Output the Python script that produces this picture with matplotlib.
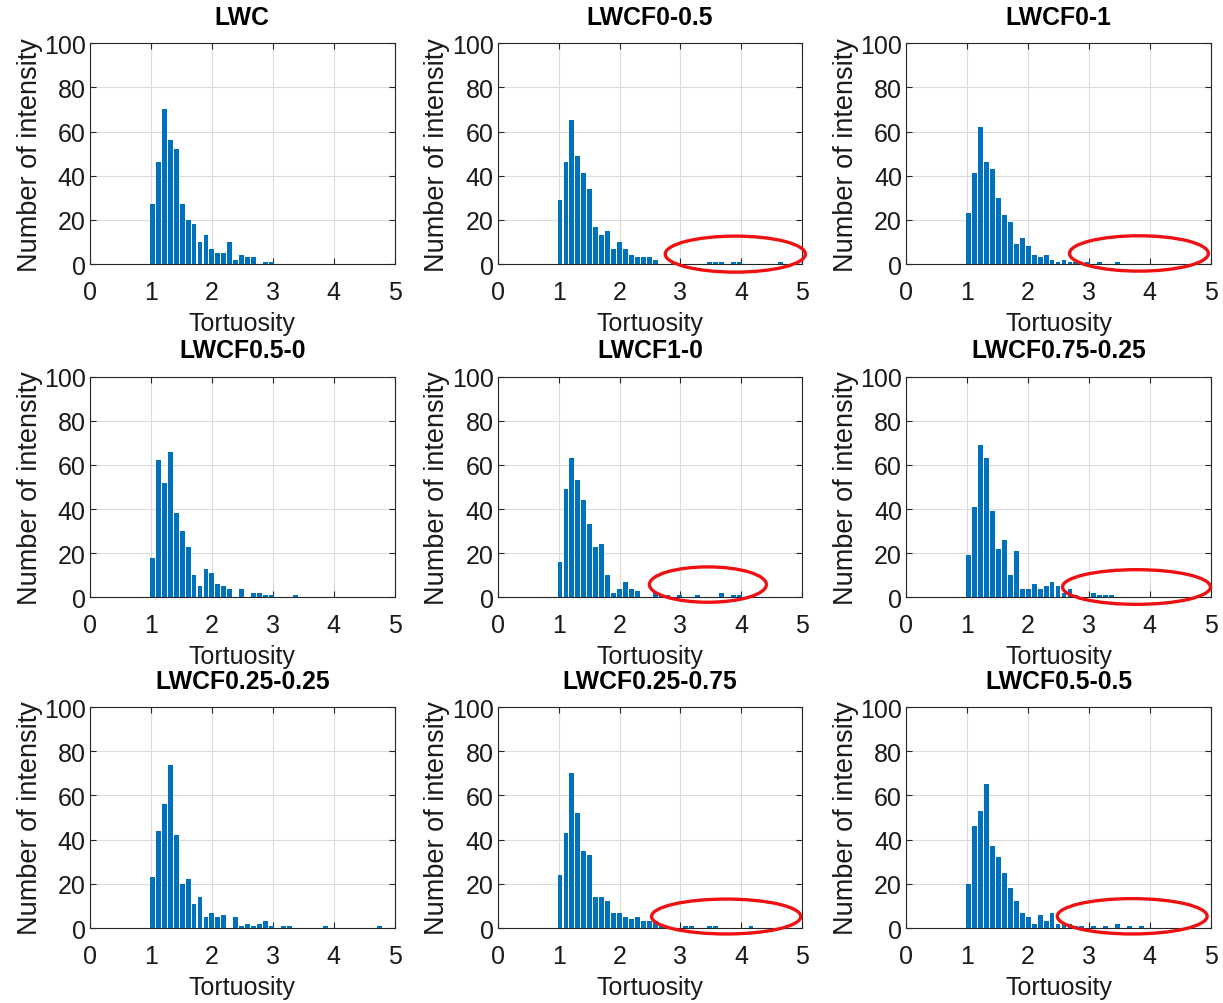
import matplotlib.pyplot as plt
from matplotlib.patches import Ellipse
import numpy as np

plt.rcParams['font.family'] = ['Liberation Sans', 'DejaVu Sans']

# histogram bins (tortuosity), counts per bin
bin_start = 0.973
bin_width = 0.098

titles = ['LWC', 'LWCF0-0.5', 'LWCF0-1',
          'LWCF0.5-0', 'LWCF1-0', 'LWCF0.75-0.25',
          'LWCF0.25-0.25', 'LWCF0.25-0.75', 'LWCF0.5-0.5']

counts_lwc = [27, 46, 70, 56, 52, 27, 20, 18, 10, 13, 7, 5, 5, 10, 2, 4, 3, 3, 0, 1, 1]
counts_f0_05 = [29, 46, 65, 49, 41, 34, 17, 13, 15, 7, 10, 7, 4, 3, 3, 3, 2, 0, 0, 1,
                0, 0, 0, 0, 0, 1, 1, 1, 0, 1, 1, 0, 0, 0, 0, 0, 0, 1]
counts_f0_1 = [23, 41, 62, 46, 43, 30, 22, 19, 9, 12, 8, 4, 3, 4, 2, 1, 2, 1, 1, 0,
               1, 0, 1, 0, 0, 1]
counts_f05_0 = [18, 62, 52, 66, 38, 30, 23, 10, 5, 13, 11, 6, 5, 4, 0, 4, 0, 2, 2, 1,
                1, 0, 0, 0, 1]
counts_f1_0 = [16, 49, 63, 53, 44, 33, 23, 24, 10, 2, 4, 7, 4, 3, 0, 0, 2, 1, 1, 0,
               1, 0, 0, 1, 0, 0, 0, 2, 0, 1, 1]
counts_f075_025 = [19, 41, 69, 63, 39, 22, 26, 10, 21, 4, 4, 6, 4, 5, 7, 5, 2, 4, 1, 0,
                   0, 2, 1, 1, 1]
counts_f025_025 = [23, 44, 56, 74, 42, 20, 22, 11, 14, 5, 7, 5, 6, 0, 5, 1, 2, 1, 2, 3,
                   1, 0, 1, 1, 0, 0, 0, 0, 0, 1, 0, 0, 0, 0, 0, 0, 0, 0, 1]
counts_f025_075 = [24, 43, 70, 52, 35, 33, 14, 14, 12, 7, 7, 5, 4, 5, 3, 3, 3, 2, 0, 0,
                   0, 1, 1, 0, 0, 1, 1, 0, 0, 0, 0, 0, 1]
counts_f05_05 = [20, 46, 53, 65, 37, 32, 25, 18, 12, 7, 5, 2, 6, 3, 7, 2, 2, 2, 1, 1,
                 0, 1, 0, 1, 0, 2, 0, 1, 0, 1]

all_counts = [counts_lwc, counts_f0_05, counts_f0_1,
              counts_f05_0, counts_f1_0, counts_f075_025,
              counts_f025_025, counts_f025_075, counts_f05_05]

# red highlight ellipses: (panel index, centre x, centre y, width, height) in data units
ellipses = [(1, 3.9, 4.5, 2.3, 16.3),
            (2, 3.82, 4.8, 2.28, 16),
            (4, 3.45, 5.8, 1.92, 16),
            (5, 3.78, 4.7, 2.43, 15.7),
            (7, 3.75, 5.2, 2.45, 15.8),
            (8, 3.71, 5.3, 2.46, 16)]

fig = plt.figure(figsize=(12.23, 10.04), dpi=100)

lefts = [0.0736, 0.407, 0.741]
bottoms = [0.736, 0.404, 0.0747]
w = 0.249
h = 0.220

axes = []
for i in range(9):
    row = i // 3
    col = i % 3
    ax = fig.add_axes([lefts[col], bottoms[row], w, h])
    axes.append(ax)

    counts = all_counts[i]
    centres = bin_start + bin_width * (np.arange(len(counts)) + 0.5)
    ax.bar(centres, counts, width=bin_width * 0.82, color='#0072BD', zorder=3)

    ax.set_xlim(0, 5)
    ax.set_ylim(0, 100)
    ax.set_xticks(range(6))
    ax.set_yticks(range(0, 101, 20))
    ax.grid(True, color='#dcdcdc', linewidth=0.8, zorder=0)
    ax.set_axisbelow(True)
    ax.tick_params(direction='in', top=True, right=True, labelsize=18,
                   color='#262626', labelcolor='#1a1a1a', length=4)
    ax.tick_params(axis='x', pad=11.5)
    ax.tick_params(axis='y', pad=3)
    for s in ax.spines.values():
        s.set_color('#262626')
        s.set_linewidth(0.8)

    ax.set_title(titles[i], fontsize=17.8, fontweight='bold', pad=14)
    ax.set_xlabel('Tortuosity', fontsize=18, color='#1a1a1a', labelpad=5)
    ax.set_ylabel('Number of intensity', fontsize=19.5, color='#1a1a1a', labelpad=1)

for idx, cx, cy, ew, eh in ellipses:
    e = Ellipse((cx, cy), ew, eh, fill=False, edgecolor='#ee1111',
                linewidth=2.4, clip_on=False, zorder=5)
    axes[idx].add_patch(e)

fig.savefig('out.png', dpi=100)
